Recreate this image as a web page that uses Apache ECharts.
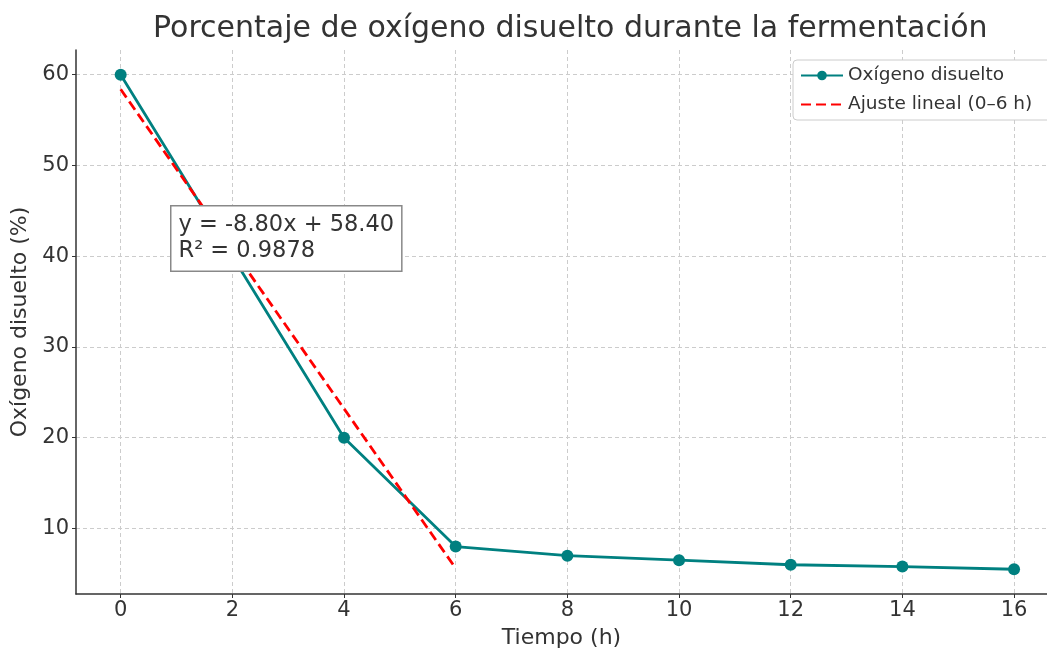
<!DOCTYPE html>
<html>
<head>
<meta charset="utf-8">
<script src="https://cdn.jsdelivr.net/npm/echarts@6/dist/echarts.min.js"></script>
<style>
  html, body { margin: 0; padding: 0; background: #fff; }
  #chart { width: 1047px; height: 654px; }
</style>
</head>
<body>
<div id="chart"></div>
<script>
// measured data
const tiempo = [0, 2, 4, 6, 8, 10, 12, 14, 16];
const oxigeno = [60, 40, 20, 8, 7, 6.5, 6, 5.8, 5.5];
// linear fit over 0-6 h
const ajusteX = [0, 6];
const ajusteY = [58.4, 5.6];

const font = "DejaVu Sans";
const textColor = "#333";

const chart = echarts.init(document.getElementById("chart"));

function getOpts() {
  return {
    animation: false,
    textStyle: { fontFamily: font },
    title: {
      text: "Porcentaje de oxígeno disuelto durante la fermentación",
      left: 148,
      top: 9,
      textStyle: { fontFamily: font, fontSize: 30, fontWeight: "normal", color: textColor },
    },
    legend: {
      orient: "vertical",
      left: 793,
      top: 60,
      padding: [6, 40, 6, 7],
      itemWidth: 42,
      itemHeight: 12,
      itemGap: 10,
      borderColor: "#ccc",
      borderWidth: 1,
      borderRadius: 4,
      backgroundColor: "#fff",
      textStyle: { fontFamily: font, fontSize: 18.5, color: textColor },
      data: [
        { name: "Oxígeno disuelto" },
        { name: "Ajuste lineal (0–6 h)", itemStyle: { opacity: 0 } },
      ],
    },
    grid: {
      left: 76,
      top: 50,
      right: 0,
      bottom: 58,
      containLabel: false,
    },
    xAxis: {
      type: "value",
      min: -0.8,
      max: 16.59,
      splitNumber: 9,
      minInterval: 2,
      maxInterval: 2,
      name: "Tiempo (h)",
      nameLocation: "middle",
      nameGap: 33,
      nameTextStyle: { fontFamily: font, fontSize: 22, color: textColor },
      axisLine: { show: true, onZero: false, lineStyle: { color: "#333", width: 1.5 } },
      axisTick: { show: true, length: 4, lineStyle: { color: "#333" } },
      axisLabel: {
        showMinLabel: false,
        showMaxLabel: false,
        fontSize: 21,
        color: textColor,
        margin: 6,
      },
      splitLine: {
        show: true,
        showMinLine: false,
        showMaxLine: false,
        lineStyle: { color: "#ccc", type: [4, 3], width: 1 },
      },
    },
    yAxis: {
      type: "value",
      min: 2.775,
      max: 62.725,
      splitNumber: 6,
      minInterval: 10,
      maxInterval: 10,
      name: "Oxígeno disuelto (%)",
      nameLocation: "middle",
      nameGap: 38,
      nameTextStyle: { fontFamily: font, fontSize: 22, color: textColor },
      axisLine: { show: true, onZero: false, lineStyle: { color: "#333", width: 1.5 } },
      axisTick: { show: true, length: 4, lineStyle: { color: "#333" } },
      axisLabel: {
        showMinLabel: false,
        showMaxLabel: false,
        fontSize: 21,
        color: textColor,
        margin: 7,
      },
      splitLine: {
        show: true,
        showMinLine: false,
        showMaxLine: false,
        lineStyle: { color: "#ccc", type: [4, 3], width: 1 },
      },
    },
    series: [
      {
        name: "Oxígeno disuelto",
        type: "line",
        data: tiempo.map((t, i) => [t, oxigeno[i]]),
        color: "#008080",
        symbol: "circle",
        symbolSize: 12,
        lineStyle: { width: 2.8, color: "#008080" },
        itemStyle: { color: "#008080" },
        z: 2,
      },
      {
        name: "Ajuste lineal (0–6 h)",
        type: "line",
        data: ajusteX.map((t, i) => [t, ajusteY[i]]),
        color: "#ff0000",
        symbol: "none",
        lineStyle: { width: 2.8, color: "#ff0000", type: [10, 5] },
        z: 3,
      },
    ],
    graphic: [
      {
        type: "text",
        left: 170,
        top: 205,
        z: 10,
        style: {
          text: "y = -8.80x + 58.40\nR² = 0.9878",
          font: "22.5px 'DejaVu Sans'",
          fill: textColor,
          lineHeight: 26,
          backgroundColor: "#fff",
          borderColor: "#888",
          borderWidth: 1.5,
          padding: [6, 7, 6, 7],
        },
      },
    ],
  };
}

chart.setOption(getOpts());
</script>
</body>
</html>
